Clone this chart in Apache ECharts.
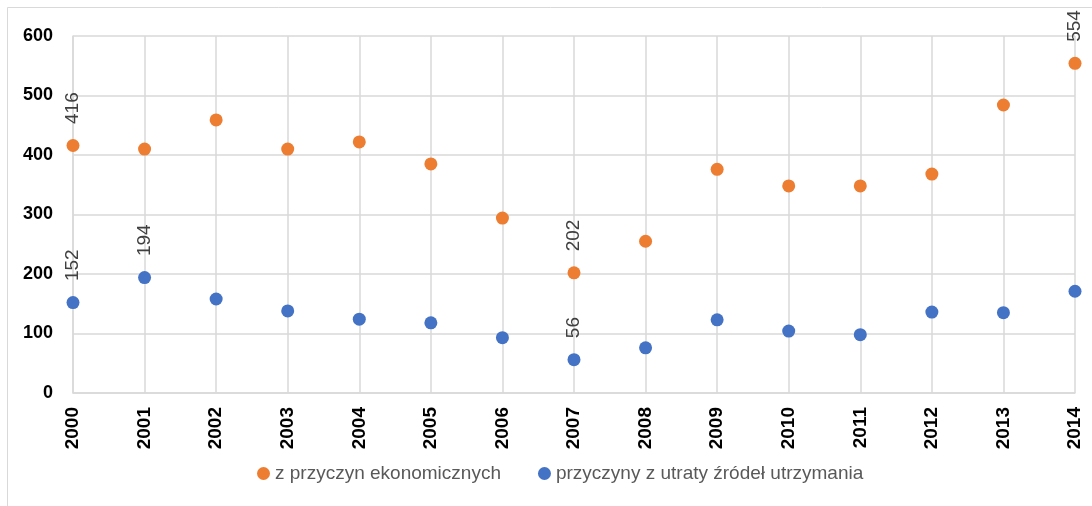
<!DOCTYPE html>
<html><head><meta charset="utf-8">
<script src="https://cdn.jsdelivr.net/npm/echarts@6/dist/echarts.min.js"></script>
<style>html,body{margin:0;padding:0;background:#fff}#c{width:1092px;height:506px}</style>
</head><body><div id="c"></div>
<script>
const years = ['2000','2001','2002','2003','2004','2005','2006','2007','2008','2009','2010','2011','2012','2013','2014'];
const econ = [416,410,459,410,422,385,294,202,255,376,348,348,368,484,554];
const source = [152,194,158,138,124,118,93,56,76,123,104,98,136,135,171];
const econLabeled = [0,7,14];
const sourceLabeled = [0,1,7];
const yTicks = [0,100,200,300,400,500,600];

const FF = 'Liberation Sans, Arial, sans-serif';
const labelStyle = {show:true, position:'top', rotate:90, align:'left', verticalAlign:'middle', distance:15,
  fontFamily:FF, fontSize:19, color:'#404040', formatter:'{c}'};
function build(vals, labeled){
  return vals.map((v,i)=> labeled.includes(i) ? {value:v, label:labelStyle} : {value:v});
}
const chart = echarts.init(document.getElementById('c'));
chart.setOption({
  animation:false,
  graphic:[{type:'rect', shape:{x:7.5,y:7.5,width:1200,height:600}, style:{fill:'none', stroke:'#d9d9d9', lineWidth:1}, silent:true}],
  grid:{left:73, right:17, top:36, bottom:113, containLabel:false},
  xAxis:{type:'category', data:years, boundaryGap:false,
    axisLine:{lineStyle:{color:'#d9d9d9', width:1.5}}, axisTick:{show:false},
    splitLine:{show:true, lineStyle:{color:'#d9d9d9', width:1.5}},
    axisLabel:{rotate:90, margin:14, fontWeight:'bold', fontSize:19, color:'#000', fontFamily:FF}},
  yAxis:{type:'value', min:yTicks[0], max:yTicks[yTicks.length-1], interval:100,
    axisLine:{show:true, lineStyle:{color:'#d9d9d9', width:1.5}}, axisTick:{show:false},
    splitLine:{lineStyle:{color:'#d9d9d9', width:1.5}},
    axisLabel:{margin:20, fontWeight:'bold', fontSize:18, color:'#000', fontFamily:FF}},
  legend:{bottom:18, left:252, icon:'circle', itemWidth:13, itemHeight:13, itemGap:37,
    textStyle:{fontSize:19, color:'#595959', fontFamily:FF},
    data:['z przyczyn ekonomicznych','przyczyny z utraty źródeł utrzymania']},
  series:[
    {name:'z przyczyn ekonomicznych', type:'scatter', symbolSize:13, itemStyle:{color:'#ED7D31', opacity:1}, data:build(econ, econLabeled)},
    {name:'przyczyny z utraty źródeł utrzymania', type:'scatter', symbolSize:13, itemStyle:{color:'#4472C4', opacity:1}, data:build(source, sourceLabeled)}
  ]
});
</script></body></html>
